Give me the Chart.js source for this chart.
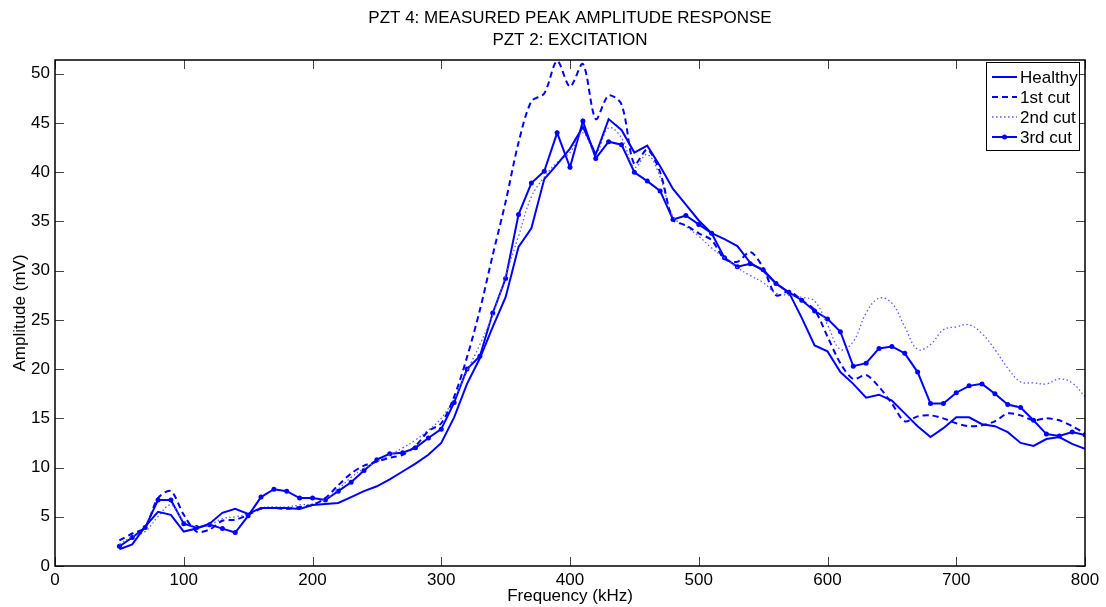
<!DOCTYPE html>
<html>
<head>
<meta charset="utf-8">
<script src="https://cdn.jsdelivr.net/npm/chart.js@4/dist/chart.umd.min.js"></script>
<style>
  html, body { margin: 0; padding: 0; background: #fff; }
  #wrap { width: 1106px; height: 607px; }
</style>
</head>
<body>
<div id="wrap"><canvas id="chart" width="1106" height="607"></canvas></div>
<script>
// --- Data (frequency in kHz, amplitude in mV) ---
const FREQ = [50, 60, 70, 80, 90, 100, 110, 120, 130, 140, 150, 160, 170, 180, 190, 200,
  210, 220, 230, 240, 250, 260, 270, 280, 290, 300, 310, 320, 330, 340, 350, 360, 370, 380,
  390, 400, 410, 420, 430, 440, 450, 460, 470, 480, 490, 500, 510, 520, 530, 540, 550, 560,
  570, 580, 590, 600, 610, 620, 630, 640, 650, 660, 670, 680, 690, 700, 710, 720, 730, 740,
  750, 760, 770, 780, 790, 800];

const HEALTHY = [1.7, 2.2, 4.0, 5.5, 5.2, 3.5, 3.8, 4.3, 5.4, 5.8, 5.3, 5.9, 5.9, 5.9, 5.8, 6.2,
  6.3, 6.4, 7.0, 7.6, 8.1, 8.8, 9.6, 10.4, 11.3, 12.5, 15.1, 18.5, 21.1, 24.3, 27.3, 32.4, 34.3, 39.3,
  40.8, 42.4, 44.6, 41.8, 45.4, 44.3, 42.0, 42.7, 40.6, 38.3, 36.7, 35.1, 33.8, 33.2, 32.5, 30.8, 30.0, 28.7,
  27.8, 25.2, 22.4, 21.8, 19.7, 18.5, 17.1, 17.4, 16.8, 15.5, 14.2, 13.1, 14.0, 15.1, 15.1, 14.4, 14.2, 13.6,
  12.5, 12.2, 12.9, 13.1, 12.4, 11.9];

const CUT1 = [2.6, 3.3, 3.9, 6.9, 7.6, 5.2, 3.5, 3.7, 4.6, 4.7, 5.2, 5.8, 5.9, 5.8, 6.0, 6.2,
  6.9, 8.2, 9.4, 10.2, 10.6, 11.0, 11.3, 12.2, 13.7, 14.5, 17.2, 21.2, 26.0, 31.6, 37.0, 43.0, 47.2, 48.0,
  51.3, 48.7, 51.0, 45.4, 47.8, 46.9, 40.8, 42.3, 40.0, 35.2, 34.6, 33.8, 33.1, 31.2, 30.9, 31.9, 30.3, 27.5,
  27.9, 27.0, 26.0, 23.3, 20.6, 19.0, 19.4, 18.2, 16.5, 14.7, 15.2, 15.3, 15.0, 14.5, 14.2, 14.3, 14.7, 15.5,
  15.3, 14.8, 15.0, 14.8, 14.2, 13.5];

const CUT2 = [2.2, 3.0, 3.5, 5.0, 6.2, 4.6, 4.0, 4.2, 4.8, 5.0, 5.3, 5.9, 6.0, 6.0, 6.2, 6.3,
  6.8, 7.8, 9.0, 9.9, 10.6, 11.3, 12.0, 12.8, 13.8, 15.0, 17.0, 19.8, 22.5, 25.5, 29.5, 33.5, 37.5, 39.5,
  41.0, 42.0, 44.0, 42.0, 44.5, 43.5, 40.5, 41.8, 39.5, 35.5, 34.5, 33.5, 32.3, 31.3, 30.3, 29.5, 28.8, 27.7,
  27.5, 27.3, 26.9, 24.5, 22.0, 22.8, 25.7, 27.2, 26.7, 24.3, 22.0, 22.5, 24.0, 24.3, 24.5, 23.6, 22.0, 20.1,
  18.7, 18.6, 18.5, 19.0, 18.6, 17.2];

const CUT3 = [2.0, 2.9, 3.9, 6.7, 6.7, 4.3, 3.9, 4.2, 3.8, 3.4, 5.1, 7.0, 7.8, 7.6, 6.9, 6.9,
  6.7, 7.6, 8.5, 9.7, 10.8, 11.4, 11.5, 12.0, 13.0, 13.9, 16.6, 20.0, 21.3, 25.7, 29.2, 35.7, 38.9, 40.1,
  44.0, 40.5, 45.2, 41.4, 43.1, 42.8, 40.0, 39.1, 38.1, 35.2, 35.6, 34.7, 33.8, 31.3, 30.4, 30.7, 30.1, 28.7,
  27.8, 27.0, 25.9, 25.1, 23.8, 20.3, 20.6, 22.1, 22.3, 21.6, 19.7, 16.5, 16.5, 17.6, 18.3, 18.5, 17.5, 16.4,
  16.1, 14.8, 13.4, 13.2, 13.6, 13.3];

const SERIES_NAMES = ['Healthy', '1st cut', '2nd cut', '3rd cut'];
const TITLE_LINES = ['PZT 4: MEASURED PEAK AMPLITUDE RESPONSE', 'PZT 2: EXCITATION'];
const X_TICKS = [0, 100, 200, 300, 400, 500, 600, 700, 800];
const Y_TICKS = [0, 5, 10, 15, 20, 25, 30, 35, 40, 45, 50];

const BLUE = '#0000ff';
const FONT = "'Liberation Sans', Arial, Helvetica, sans-serif";

function toPoints(values) {
  return FREQ.map((f, i) => ({ x: f, y: values[i] }));
}

// MATLAB-style box: inward ticks on all four sides, frame, legend inside the axes
const matlabAxes = {
  id: 'matlabAxes',
  afterDraw(chart) {
    const { ctx, chartArea: a, scales: { x, y } } = chart;
    const len = 9;
    ctx.save();
    ctx.lineWidth = 1;
    ctx.strokeStyle = '#444';
    ctx.beginPath();
    X_TICKS.forEach(v => {
      const px = Math.round(x.getPixelForValue(v)) + 0.5;
      ctx.moveTo(px, a.bottom); ctx.lineTo(px, a.bottom - len);
      ctx.moveTo(px, a.top); ctx.lineTo(px, a.top + len);
    });
    Y_TICKS.forEach(v => {
      const py = Math.round(y.getPixelForValue(v)) + 0.5;
      ctx.moveTo(a.left, py); ctx.lineTo(a.left + len, py);
      ctx.moveTo(a.right, py); ctx.lineTo(a.right - len, py);
    });
    ctx.stroke();

    ctx.strokeStyle = '#000';
    ctx.lineWidth = 1.5;
    ctx.strokeRect(a.left, a.top, a.right - a.left, a.bottom - a.top);

    // legend
    const bx = a.right - 99, by = a.top + 2, bw = 93, bh = 88;
    ctx.fillStyle = '#fff';
    ctx.fillRect(bx, by, bw, bh);
    ctx.lineWidth = 1;
    ctx.strokeStyle = '#000';
    ctx.strokeRect(bx + 0.5, by + 0.5, bw, bh);
    ctx.font = '17px ' + FONT;
    ctx.textBaseline = 'middle';
    ctx.textAlign = 'left';
    chart.data.datasets.forEach((ds, i) => {
      const ry = by + 15 + i * 20;
      ctx.save();
      ctx.strokeStyle = ds.borderColor;
      ctx.lineWidth = ds.borderWidth;
      ctx.setLineDash(ds.borderDash || []);
      ctx.beginPath();
      ctx.moveTo(bx + 6, ry); ctx.lineTo(bx + 31, ry);
      ctx.stroke();
      if (ds.pointRadius) {
        ctx.fillStyle = ds.borderColor;
        ctx.beginPath();
        ctx.arc(bx + 18.5, ry, ds.pointRadius, 0, Math.PI * 2);
        ctx.fill();
      }
      ctx.restore();
      ctx.fillStyle = '#000';
      ctx.fillText(ds.label, bx + 34, ry + 1);
    });
    ctx.restore();
  }
};

Chart.defaults.color = '#000';
Chart.defaults.font.family = FONT;

new Chart(document.getElementById('chart'), {
  type: 'line',
  data: {
    datasets: [
      { label: SERIES_NAMES[0], data: toPoints(HEALTHY), borderColor: BLUE, borderWidth: 2,
        pointRadius: 0, fill: false, tension: 0 },
      { label: SERIES_NAMES[1], data: toPoints(CUT1), borderColor: BLUE, borderWidth: 2,
        borderDash: [6, 4], pointRadius: 0, fill: false, tension: 0.3 },
      { label: SERIES_NAMES[2], data: toPoints(CUT2), borderColor: '#5a5aff', borderWidth: 1.3,
        borderDash: [1.5, 2.5], pointRadius: 0, fill: false, tension: 0.4 },
      { label: SERIES_NAMES[3], data: toPoints(CUT3), borderColor: BLUE, backgroundColor: BLUE,
        borderWidth: 2, pointRadius: 2.5, pointBorderWidth: 0, pointBackgroundColor: BLUE,
        fill: false, tension: 0 }
    ]
  },
  options: {
    responsive: false,
    animation: false,
    layout: { padding: { left: 0, right: 21, top: 0, bottom: 0 } },
    plugins: {
      legend: { display: false },
      tooltip: { enabled: false },
      title: {
        display: true,
        fullSize: false,
        text: TITLE_LINES,
        font: { size: 17, weight: 'normal', lineHeight: 22 / 17 },
        padding: { top: 7, bottom: 9 },
        color: '#000'
      }
    },
    scales: {
      x: {
        type: 'linear',
        min: 0, max: 800,
        grid: { display: false, drawTicks: false },
        border: { display: false },
        afterBuildTicks: s => { s.ticks = X_TICKS.map(v => ({ value: v })); },
        afterFit: s => { s.height = 41; },
        ticks: { font: { size: 17 }, padding: 4, maxRotation: 0, autoSkip: false },
        title: { display: true, text: 'Frequency (kHz)', font: { size: 17 }, padding: { top: 0, bottom: 0 } }
      },
      y: {
        min: 0, max: 51.4,
        grid: { display: false, drawTicks: false },
        border: { display: false },
        afterBuildTicks: s => { s.ticks = Y_TICKS.map(v => ({ value: v })); },
        afterFit: s => { s.width = 55; },
        ticks: { font: { size: 17 }, padding: 5 },
        title: { display: true, text: 'Amplitude (mV)', font: { size: 17 }, padding: { top: 10, bottom: 0 } }
      }
    }
  },
  plugins: [matlabAxes]
});
</script>
</body>
</html>
